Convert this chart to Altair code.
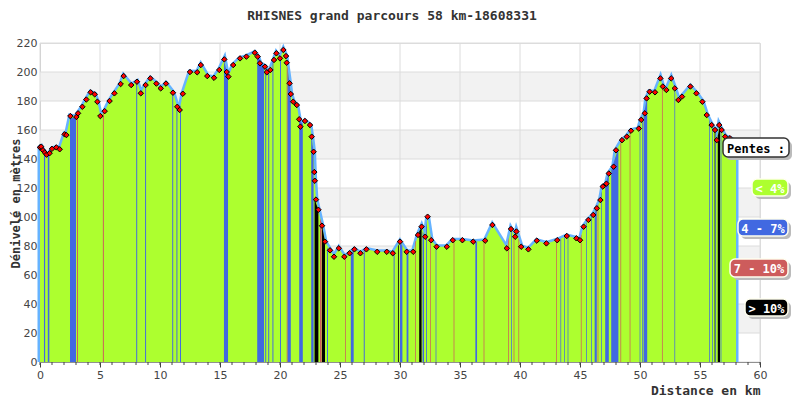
import altair as alt
import pandas as pd

TITLE = "RHISNES grand parcours 58 km-18608331"

# Elevation profile (km, m)
km = [0.0, 0.1, 0.25, 0.4, 0.55, 0.8, 1.0, 1.36, 1.64, 2.05, 2.2, 2.53, 3.03, 3.17, 3.53, 3.86,
      4.22, 4.56, 4.78, 5.03, 5.39, 5.8, 6.2, 6.72, 6.97, 7.6, 8.08, 8.4, 8.8, 9.2, 9.7, 10.06,
      10.5, 11.08, 11.44, 11.64, 11.9, 12.5, 13.1, 13.4, 13.94, 14.5, 14.94, 15.36, 15.56, 15.7,
      16.1, 16.67, 17.2, 17.9, 18.14, 18.33, 18.75, 18.9, 19.2, 19.5, 19.7, 20.0, 20.28, 20.5,
      20.56, 20.8, 20.9, 21.1, 21.4, 21.6, 21.7, 22.08, 22.5, 22.64, 22.8, 22.86, 22.9, 23.0,
      23.2, 23.5, 23.75, 24.17, 24.5, 24.9, 25.36, 25.8, 26.2, 26.7, 27.2, 28.1, 28.9, 29.4,
      30.0, 30.56, 31.1, 31.5, 31.8, 32.1, 32.3, 32.6, 33.05, 33.9, 34.4, 35.2, 36.1, 37.1,
      37.7, 38.9, 39.25, 39.6, 39.7, 40.1, 40.7, 41.4, 42.2, 43.1, 43.9, 44.7, 45.0, 45.3,
      45.7, 46.1, 46.4, 46.7, 46.9, 47.2, 47.4, 47.8, 48.0, 48.5, 48.9, 49.25, 49.9, 50.1,
      50.4, 50.55, 50.8, 51.25, 51.7, 51.9, 52.2, 52.6, 52.9, 53.2, 53.5, 54.2, 54.7, 55.2,
      55.56, 55.97, 56.25, 56.4, 56.6, 56.8, 57.1, 57.5, 58.0]
elev = [148, 148.5, 146, 144.5, 143, 144, 147, 148, 146.7, 157, 156.5, 169.6, 169, 171.5, 176, 181,
        186, 184.6, 179.5, 169.6, 173, 180, 185.3, 191.7, 197.2, 191, 193.3, 185.3, 191, 195.6, 192, 188.7,
        192, 185.7, 176, 173.8, 185, 200, 199.8, 204.8, 197.2, 196, 201.4, 208.7, 200, 196.8,
        204.8, 209.4, 210.6, 213.3, 210.6, 206, 203.7, 199.8, 201.4, 208.3, 212.9, 209.4, 215.2, 211,
        206.4, 192.2, 184.8, 179.5, 177.2, 167.4, 162.3, 166.2, 163.4, 155.4, 145, 131, 125, 112,
        105, 94, 83, 77, 72.6, 78.4, 72.6, 75, 77.7, 75, 77.7, 76, 76, 75,
        83, 76, 76, 87.6, 93.3, 86.4, 100.2, 84, 79.5, 79.5, 84, 84, 83, 83.7,
        94.5, 78.4, 91.7, 86.4, 90, 79.5, 77.7, 83.7, 81.8, 84, 86.9, 85.3, 84, 93.3,
        98, 101.4, 106, 111.7, 121, 123, 130, 134.7, 146, 153, 155.4, 159.5, 161, 167,
        171.5, 181.8, 186.4, 186, 195.6, 190, 187.6, 195.6, 188.7, 180.7, 183, 190, 185.3, 179.5,
        170.3, 163.4, 160, 153, 163.4, 160, 155.4, 154.3, 152]

# Slope strips: start km, end km, category, top at start, top at end
s_start = [0.33, 0.65, 2.50, 3.08, 5.24, 8.02, 8.76, 11.02, 11.37, 11.67, 15.33, 18.10, 18.77, 19.02,
           19.37, 20.00, 20.56, 20.64, 21.60, 22.60, 22.88, 23.33, 23.50, 23.92, 25.42, 25.90, 26.98,
           29.47, 29.83, 30.00, 30.55, 31.27, 31.60, 31.88, 32.18, 32.52, 32.97, 34.47, 36.28, 36.97,
           39.00, 39.27, 39.47, 39.87, 43.02, 43.37, 43.67, 43.97, 45.07, 45.52, 45.94, 46.22, 46.47,
           46.77, 47.10, 47.60, 48.37, 49.14, 49.97, 50.17, 50.30, 51.83, 52.87, 55.77, 56.00, 56.22,
           56.28, 56.48, 56.72]
s_end = [0.43, 0.78, 3.00, 3.16, 5.32, 8.10, 8.84, 11.10, 11.45, 11.75, 15.67, 18.67, 18.85, 19.10,
         19.45, 20.08, 20.64, 20.90, 21.90, 22.80, 23.20, 23.47, 23.75, 24.00, 25.48, 26.14, 27.06,
         29.55, 29.90, 30.20, 30.70, 31.33, 31.80, 32.00, 32.25, 32.58, 33.03, 34.53, 36.42, 37.03,
         39.06, 39.33, 39.53, 39.93, 43.08, 43.43, 43.73, 44.03, 45.13, 45.58, 46.00, 46.40, 46.53,
         46.83, 47.40, 48.20, 48.43, 49.20, 50.03, 50.23, 50.60, 51.89, 52.93, 55.83, 56.06, 56.28,
         56.34, 56.67, 56.78]
s_cat = ["4 - 7%", "4 - 7%", "4 - 7%", "7 - 10%", "7 - 10%", "4 - 7%", "4 - 7%", "4 - 7%", "4 - 7%",
         "4 - 7%", "4 - 7%", "4 - 7%", "4 - 7%", "4 - 7%", "4 - 7%", "4 - 7%", "7 - 10%", "4 - 7%",
         "4 - 7%", "4 - 7%", "> 10%", "7 - 10%", "> 10%", "4 - 7%", "7 - 10%", "4 - 7%", "4 - 7%",
         "4 - 7%", "> 10%", "4 - 7%", "4 - 7%", "7 - 10%", "> 10%", "4 - 7%", "4 - 7%", "7 - 10%",
         "4 - 7%", "7 - 10%", "4 - 7%", "7 - 10%", "7 - 10%", "4 - 7%", "7 - 10%", "7 - 10%",
         "7 - 10%", "4 - 7%", "4 - 7%", "4 - 7%", "7 - 10%", "4 - 7%", "4 - 7%", "4 - 7%", "7 - 10%",
         "4 - 7%", "4 - 7%", "4 - 7%", "7 - 10%", "7 - 10%", "4 - 7%", "4 - 7%", "4 - 7%", "7 - 10%",
         "4 - 7%", "4 - 7%", "4 - 7%", "> 10%", "4 - 7%", "> 10%", "4 - 7%"]
s_top0 = [145, 143, 168, 170, 171, 193, 190, 186, 178, 175, 208, 211, 203, 200, 207, 210, 206, 202,
          167, 156, 112, 99, 94, 79, 73, 75, 77, 76, 80, 83, 76, 83, 90, 90, 93, 87, 80, 84, 83, 84,
          83, 91, 88, 85, 84, 85, 86, 87, 87, 96, 100, 103, 108, 116, 122, 132, 151, 159, 163, 168,
          170, 191, 189, 167, 163, 160, 158, 156, 161]
s_top1 = [144.5, 144, 169, 171, 172, 193, 191, 185, 176, 177, 197, 204, 202, 200, 208, 211, 202, 185,
          164, 145, 105, 96, 83, 78, 73, 77, 77, 77, 81, 80, 76, 84, 93, 88, 97, 86, 80, 84, 83, 84,
          86, 90, 88, 84, 84, 85, 86, 87, 88, 96, 100, 106, 109, 118, 130, 148, 152, 159, 165, 169,
          183, 190, 188, 166, 162, 159, 156, 163, 160]

legend_labels = ["< 4%", "4 - 7%", "7 - 10%", "> 10%"]
legend_colors = ["#adff2f", "#4169e1", "#cd5c5c", "#000000"]

x_ticks = list(range(0, 61, 5))
x_minor = list(range(0, 61, 1))
y_ticks = list(range(0, 221, 20))

profile = pd.DataFrame({"km": km, "elev": elev})
outline = pd.concat([pd.DataFrame({"km": [km[0]], "elev": [0]}), profile,
                     pd.DataFrame({"km": [km[-1]], "elev": [0]})], ignore_index=True)
outline["o"] = range(len(outline))

rows = []
for i in range(len(s_start)):
    rows.append({"id": i, "km": s_start[i], "elev": s_top0[i], "cat": s_cat[i]})
    rows.append({"id": i, "km": s_end[i], "elev": s_top1[i], "cat": s_cat[i]})
strips = pd.DataFrame(rows)

bands = pd.DataFrame({"lo": y_ticks[1:-1:2], "hi": y_ticks[2::2]})
grid_y = pd.DataFrame({"v": y_ticks})
grid_x = pd.DataFrame({"v": x_ticks})
minor = pd.DataFrame({"v": x_minor})

xs = alt.Scale(domain=[0, 60], nice=False, zero=False)
ys = alt.Scale(domain=[0, 220], nice=False, zero=False)
MONO = "DejaVu Sans Mono"
SANS = "DejaVu Sans"

XAX = alt.Axis(values=x_ticks, tickSize=5, grid=False, domainColor="#444",
               tickColor="#444", labelFont=SANS, labelFontSize=11, labelFlush=False,
               labelColor="#444", labelPadding=2,
               title="Distance en km", titleFont=MONO, titleFontSize=13,
               titleFontWeight="bold", titleColor="#333",
               titleAnchor="end", titleAlign="right", titleX=720, titleY=28,
               titleBaseline="middle")
YAX = alt.Axis(values=y_ticks, ticks=False, grid=False, domainColor="#cccccc",
               labelFont=SANS, labelFontSize=11, labelColor="#444",
               labelPadding=3, labelFlush=False,
               title="Dénivelé en mètres", titleFont=MONO, titleFontSize=12,
               titleFontWeight="bold", titleColor="#333",
               titleX=-25, titleY=160, titleAngle=-90, titleAlign="center",
               titleBaseline="middle")

band_layer = alt.Chart(bands).mark_rect(color="#f2f2f2").encode(
    x=alt.X(datum=0, type="quantitative", scale=xs, axis=XAX),
    x2=alt.X2(datum=60),
    y=alt.Y("lo:Q", scale=ys, axis=YAX), y2="hi:Q")

gy = alt.Chart(grid_y).mark_rule(color="#dcdcdc", strokeWidth=1).encode(
    y=alt.Y("v:Q", scale=ys, axis=YAX))
gx = alt.Chart(grid_x).mark_rule(color="#dcdcdc", strokeWidth=1).encode(
    x=alt.X("v:Q", scale=xs, axis=XAX))

line_layer = alt.Chart(outline).mark_line(color="#66b3ff", strokeWidth=5).encode(
    x=alt.X("km:Q", scale=xs, axis=XAX), y=alt.Y("elev:Q", scale=ys, axis=YAX),
    order="o:Q")

area_layer = alt.Chart(profile).mark_area(color="#adff2f", opacity=1).encode(
    x=alt.X("km:Q", scale=xs, axis=XAX),
    y=alt.Y("elev:Q", scale=ys, axis=YAX))

strip_layer = alt.Chart(strips).mark_area(opacity=1, interpolate="linear").encode(
    x=alt.X("km:Q", scale=xs, axis=XAX),
    y=alt.Y("elev:Q", scale=ys, axis=YAX, stack=None),
    detail="id:N",
    color=alt.Color("cat:N", scale=alt.Scale(domain=legend_labels, range=legend_colors),
                    legend=None))

minor_layer = alt.Chart(minor).mark_rule(color="#444").encode(
    x=alt.X("v:Q", scale=xs, axis=XAX), y=alt.value(319), y2=alt.value(322))

marker_layer = alt.Chart(profile).mark_point(shape="diamond", filled=True, fill="#ff0000",
                                             stroke="black", strokeWidth=1, size=30,
                                             opacity=1).encode(
    x=alt.X("km:Q", scale=xs, axis=XAX), y=alt.Y("elev:Q", scale=ys, axis=YAX))

# legend boxes (decoration, pixel placement)
boxes = [("Pentes :", 683, 749, 95, 114, "white", "black", "#333333"),
         (legend_labels[0], 712, 748, 136, 153, legend_colors[0], "white", "#fffff0"),
         (legend_labels[1], 698, 748, 176, 193, legend_colors[1], "white", "#fffff0"),
         (legend_labels[2], 690, 748, 216, 234, legend_colors[2], "white", "#fffff0"),
         (legend_labels[3], 705, 748, 256, 273, legend_colors[3], "white", "#fffff0")]
leg_layers = []
dummy = pd.DataFrame({"a": [0]})
for (lab, x0, x1, y0, y1, fill, tcol, border) in boxes:
    leg_layers.append(alt.Chart(dummy).mark_rect(color="#bbbbbb", cornerRadius=5).encode(
        x=alt.value(x0 + 3), x2=alt.value(x1 + 3), y=alt.value(y0 + 3), y2=alt.value(y1 + 3)))
    leg_layers.append(alt.Chart(dummy).mark_rect(fill=fill, stroke=border, strokeWidth=1.5,
                                                 cornerRadius=5).encode(
        x=alt.value(x0), x2=alt.value(x1), y=alt.value(y0), y2=alt.value(y1)))
    leg_layers.append(alt.Chart(dummy).mark_text(font=MONO, fontSize=12, fontWeight="bold",
                                                 color=tcol, align="center",
                                                 baseline="middle").encode(
        x=alt.value((x0 + x1) / 2), y=alt.value((y0 + y1) / 2 + 1), text=alt.value(lab)))

chart = alt.layer(band_layer, gy, gx, line_layer, area_layer, strip_layer, minor_layer,
                  marker_layer, *leg_layers).properties(
    width=720, height=319,
    autosize=alt.AutoSizeParams(type="none"),
    padding={"left": 32, "top": 35, "right": 32, "bottom": 38},
    title=alt.TitleParams(TITLE, font=MONO, fontSize=13, fontWeight="bold", color="#333",
                          anchor="middle", offset=14, dx=-8),
).configure_view(stroke=None).configure(background="white")

chart.save("out.html", embed_options={"renderer": "svg", "actions": False})
